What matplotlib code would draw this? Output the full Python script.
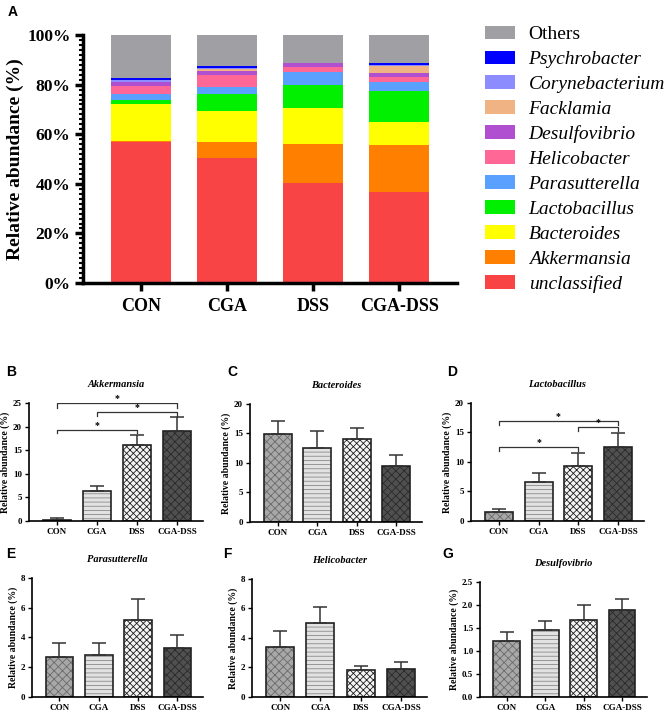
import matplotlib
matplotlib.use("Agg")
import matplotlib.pyplot as plt
import numpy as np
from matplotlib.patches import Patch
from matplotlib.ticker import MultipleLocator

plt.rcParams['font.family'] = ['Liberation Serif', 'DejaVu Serif']
plt.rcParams['hatch.linewidth'] = 0.6

groups = ["CON", "CGA", "DSS", "CGA-DSS"]

# panel A: stacked relative abundance (%), bottom to top
taxa = ["unclassified", "Akkermansia", "Bacteroides", "Lactobacillus", "Parasutterella",
        "Helicobacter", "Desulfovibrio", "Facklamia", "Corynebacterium", "Psychrobacter", "Others"]
unclassified = [56.8, 50.5, 40.5, 36.8]
akkermansia = [0.3, 6.3, 15.7, 18.7]
bacteroides = [15.0, 12.6, 14.3, 9.4]
lactobacillus = [1.5, 6.7, 9.4, 12.6]
parasutterella = [2.8, 3.1, 5.1, 3.4]
helicobacter = [3.2, 4.7, 2.0, 2.0]
desulfovibrio = [1.3, 1.4, 1.6, 1.7]
facklamia = [0.2, 1.0, 0.1, 3.0]
corynebacterium = [0.9, 0.6, 0.1, 0.3]
psychrobacter = [0.8, 0.8, 0.1, 0.9]
others = [17.2, 12.3, 11.1, 11.2]
stack = [unclassified, akkermansia, bacteroides, lactobacillus, parasutterella,
         helicobacter, desulfovibrio, facklamia, corynebacterium, psychrobacter, others]
taxa_colors = ["#f84444", "#ff8000", "#ffff00", "#00f000", "#5aa0ff", "#ff6896",
               "#b050d0", "#f0b484", "#8c8cff", "#0000ff", "#a0a0a4"]

# panels B-G: mean and upper error (top of error bar)
panels = [
    ("B", "Akkermansia", [0.3, 6.3, 16.0, 19.0], [0.7, 7.4, 18.3, 22.0], 25, 5),
    ("C", "Bacteroides", [14.9, 12.6, 14.1, 9.5], [17.1, 15.5, 16.0, 11.3], 20, 5),
    ("D", "Lactobacillus", [1.6, 6.6, 9.4, 12.5], [2.1, 8.2, 11.6, 14.9], 20, 5),
    ("E", "Parasutterella", [2.7, 2.8, 5.2, 3.3], [3.6, 3.6, 6.6, 4.2], 8, 2),
    ("F", "Helicobacter", [3.4, 5.0, 1.8, 1.9], [4.5, 6.1, 2.1, 2.4], 8, 2),
    ("G", "Desulfovibrio", [1.22, 1.45, 1.68, 1.9], [1.42, 1.66, 2.0, 2.12], 2.5, 0.5),
]
brackets = {
    "B": [(0, 3, 24.9, 24.0), (1, 3, 23.0, 22.2), (0, 2, 19.3, 18.6)],
    "D": [(0, 3, 17.0, 16.3), (2, 3, 15.9, 15.2), (0, 2, 12.6, 11.9)],
}
axes_pos = {
    "B": [0.0435, 0.2683, 0.2613, 0.1657],
    "C": [0.3754, 0.2669, 0.2583, 0.1657],
    "D": [0.7072, 0.2683, 0.2598, 0.1657],
    "E": [0.048, 0.0211, 0.2568, 0.1671],
    "F": [0.3784, 0.0211, 0.2628, 0.1657],
    "G": [0.7207, 0.0211, 0.2508, 0.1615],
}
bar_styles = [
    dict(color="#a8a8a8", hatch="xxxx", hc="#6a6a6a"),
    dict(color="#e2e2e2", hatch="----", hc="#8a8a8a"),
    dict(color="#f4f4f4", hatch="xxxxx", hc="#202020"),
    dict(color="#505050", hatch="xxxx", hc="#2a2a2a"),
]

fig = plt.figure(figsize=(6.66, 7.12), dpi=100)

# ---- panel A ----
ax = fig.add_axes([0.1246, 0.6025, 0.5616, 0.3483])
x = np.arange(len(groups))
bottom = np.zeros(len(groups))
for vals, col in zip(stack, taxa_colors):
    ax.bar(x, vals, 0.7, bottom=bottom, color=col, linewidth=0)
    bottom += np.array(vals)
ax.set_xlim(-0.67, 3.67)
ax.set_ylim(0, 100)
ax.yaxis.set_minor_locator(MultipleLocator(2))
ax.set_yticks(range(0, 101, 20))
ax.set_yticklabels([f"{v}%" for v in range(0, 101, 20)], fontsize=12.5, fontweight="bold")
ax.set_xticks(x)
ax.set_xticklabels(groups, fontsize=13, fontweight="bold")
ax.set_ylabel("Relative abundance (%)", fontsize=14, fontweight="bold", labelpad=2)
for s in ["top", "right"]:
    ax.spines[s].set_visible(False)
for s in ["left", "bottom"]:
    ax.spines[s].set_linewidth(2.5)
ax.tick_params(axis="both", which="major", length=6, width=2.5, pad=3)
ax.tick_params(axis="y", which="minor", length=3, width=1.5)
ax.tick_params(axis="x", pad=5)

handles = [Patch(facecolor=c, edgecolor="none") for c in taxa_colors[::-1]]
labels = taxa[::-1]
leg = fig.legend(handles, labels, loc="upper left", bbox_to_anchor=(0.728, 0.964),
                 frameon=False, fontsize=14, handlelength=1.55, handleheight=0.72,
                 handletextpad=0.7, labelspacing=0.37, borderpad=0, borderaxespad=0)
for t in leg.get_texts():
    if t.get_text() != "Others":
        t.set_fontstyle("italic")

fig.text(0.012, 0.983, "A", fontsize=10, fontweight="bold", family="Liberation Sans", va="center")

# ---- panels B-G ----
for letter, name, means, tops, ymax, step in panels:
    ax = fig.add_axes(axes_pos[letter])
    for i in range(4):
        st = bar_styles[i]
        ax.bar(i, means[i], 0.7, color=st["color"], hatch=st["hatch"],
               edgecolor=st["hc"], linewidth=0)
        ax.bar(i, means[i], 0.7, fill=False, edgecolor="#222222", linewidth=1.2)
    err = np.array(tops) - np.array(means)
    ax.errorbar(range(4), means, yerr=[np.zeros(4), err], fmt="none",
                ecolor="#333333", elinewidth=1.1, capsize=5, capthick=1.1)
    for a, b, y, yd in brackets.get(letter, []):
        ax.plot([a, a, b, b], [yd, y, y, yd], color="#333333", lw=0.9)
        ax.text((a + b) / 2, y, "*", ha="center", va="bottom", fontsize=7, fontweight="bold")
    ax.set_xlim(-0.7, 3.65)
    ax.set_ylim(0, ymax)
    ticks = np.arange(0, ymax + step / 2, step)
    ax.set_yticks(ticks)
    if step < 1:
        ax.set_yticklabels([f"{v:.1f}" for v in ticks])
    else:
        ax.set_yticklabels([f"{v:g}" for v in ticks])
    ax.set_xticks(range(4))
    ax.set_xticklabels(groups)
    for s in ["top", "right"]:
        ax.spines[s].set_visible(False)
    for s in ["left", "bottom"]:
        ax.spines[s].set_linewidth(1.2)
    ax.tick_params(axis="both", labelsize=6.5, length=3, width=1.0, pad=2)
    for t in ax.get_xticklabels() + ax.get_yticklabels():
        t.set_fontweight("bold")
    ax.set_ylabel("Relative abundance (%)", fontsize=7, fontweight="bold", labelpad=2)
    ax.annotate(name, xy=(0.5, 1.0), xycoords="axes fraction", xytext=(0, 13),
                textcoords="offset points", ha="center", va="center",
                fontsize=7.5, fontstyle="italic", fontweight="bold")
    lx = {"B": 0.009, "C": 0.341, "D": 0.671, "E": 0.009, "F": 0.335, "G": 0.664}[letter]
    ly = 1 - (372 if letter in "BCD" else 554) / 712
    fig.text(lx, ly, letter, fontsize=10, fontweight="bold", family="Liberation Sans", va="center")

fig.savefig("out.png", dpi=100)
